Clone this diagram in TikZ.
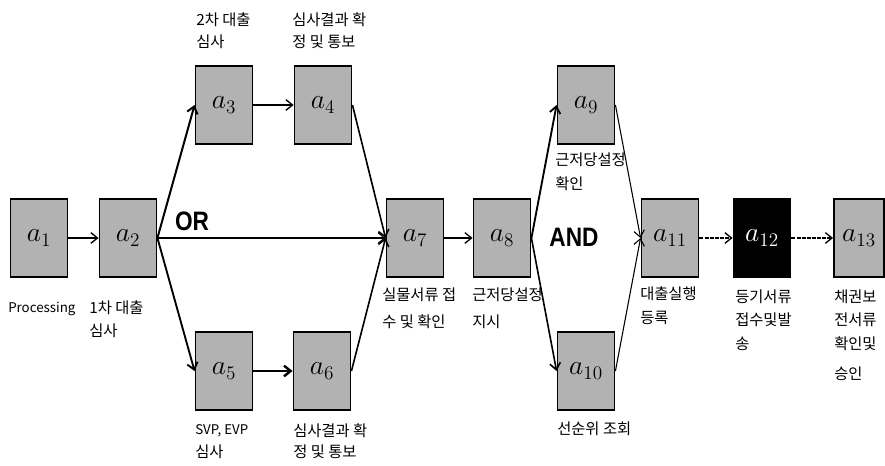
\documentclass[tikz,border=0pt]{standalone}
\usepackage{fontspec}
\setmainfont{Noto Sans CJK KR}
\newfontfamily\gatefont{Liberation Sans}
\usetikzlibrary{arrows.meta}
\begin{document}
\begin{tikzpicture}[x=0.75pt,y=-0.75pt,
  act/.style={draw=black,line width=1.4pt,fill=black!30,minimum width=42.75pt,minimum height=58.5pt,inner sep=0pt,font=\fontsize{22}{22}\selectfont},
  actdark/.style={act,fill=black,text=white},
  lbl/.style={anchor=base west,inner sep=0pt,font=\fontsize{11.5}{14}\selectfont},
  latin/.style={lbl,font=\fontsize{10}{14}\selectfont},
  gate/.style={inner sep=0pt,font=\gatefont\bfseries\fontsize{20}{20}\selectfont,xscale=0.85},
  flow/.style={line width=1pt,-{Straight Barb[length=5pt,width=8pt]}}
]
\useasboundingbox (0,0) rectangle (885,466);
% activities
\node[act] (a1) at (39,238) {$a_{1}$};
\node[act] (a2) at (128,238) {$a_{2}$};
\node[act] (a3) at (224,105) {$a_{3}$};
\node[act] (a4) at (323,105) {$a_{4}$};
\node[act] (a5) at (224,371) {$a_{5}$};
\node[act] (a6) at (322,371) {$a_{6}$};
\node[act] (a7) at (415,238) {$a_{7}$};
\node[act] (a8) at (502,238) {$a_{8}$};
\node[act] (a9) at (586,105) {$a_{9}$};
\node[act] (a10) at (586,371) {$a_{10}$};
\node[act] (a11) at (670,238) {$a_{11}$};
\node[actdark] (a12) at (762,238) {$a_{12}$};
\node[act,minimum width=37.5pt] (a13) at (859,238) {$a_{13}$};
% gates
\node[gate] (or) at (192,221) {OR};
\node[gate] (and) at (574,237) {AND};
% labels
\node[latin] (l1) at (8,313) {Processing};
\node[lbl] (l2a) at (89,314) {1차 대출};
\node[lbl] (l2b) at (89,337) {심사};
\node[lbl] (l3a) at (196,26) {2차 대출};
\node[lbl] (l3b) at (196,48) {심사};
\node[lbl] (l4a) at (292,26) {심사결과 확};
\node[lbl] (l4b) at (292,48) {정 및 통보};
\node[latin] (l5a) at (195,435) {SVP, EVP};
\node[lbl] (l5b) at (195,457) {심사};
\node[lbl] (l6a) at (293,436) {심사결과 확};
\node[lbl] (l6b) at (293,457) {정 및 통보};
\node[lbl] (l7a) at (382,301) {실물서류 접};
\node[lbl] (l7b) at (382,328) {수 및 확인};
\node[lbl] (l8a) at (472,301) {근저당설정};
\node[lbl] (l8b) at (472,328) {지시};
\node[lbl] (l9a) at (555,166) {근저당설정};
\node[lbl] (l9b) at (555,190) {확인};
\node[lbl] (l10) at (557,434) {선순위 조회};
\node[lbl] (l11a) at (640,300) {대출실행};
\node[lbl] (l11b) at (640,324) {등록};
\node[lbl] (l12a) at (735,303) {등기서류};
\node[lbl] (l12b) at (735,326) {접수및발};
\node[lbl] (l12c) at (735,350) {송};
\node[lbl] (l13a) at (834,303) {채권보};
\node[lbl] (l13b) at (834,326) {전서류};
\node[lbl] (l13c) at (834,350) {확인및};
\node[lbl] (l13d) at (834,379) {승인};
% connectors
\draw[flow] (a1) -- (a2);
\draw[flow,line width=1.5pt] (a2.east) -- (a3.west);
\draw[flow,line width=1.4pt] (a2.east) -- (a5.west);
\draw[flow,line width=0.8pt] (a2.east) -- (a7.west);
\draw[flow] (a3) -- (a4);
\draw[flow,line width=1.8pt] (a5) -- (a6);
\draw[flow,line width=1.2pt] (a4.east) -- (a7.west);
\draw[flow,line width=1.2pt] (a6.east) -- (a7.west);
\draw[flow] (a7) -- (a8);
\draw[flow,line width=1.4pt] (a8.east) -- (a9.west);
\draw[flow,line width=1.2pt] (a8.east) -- (a10.west);
\draw[flow,line width=0.8pt] (a9.east) -- (a11.west);
\draw[flow,line width=0.8pt] (a10.east) -- (a11.west);
\draw[flow,dash pattern=on 3pt off 0.8pt] (a11) -- (a12);
\draw[flow,dash pattern=on 3pt off 0.8pt] (a12) -- (a13);
\end{tikzpicture}
\end{document}
